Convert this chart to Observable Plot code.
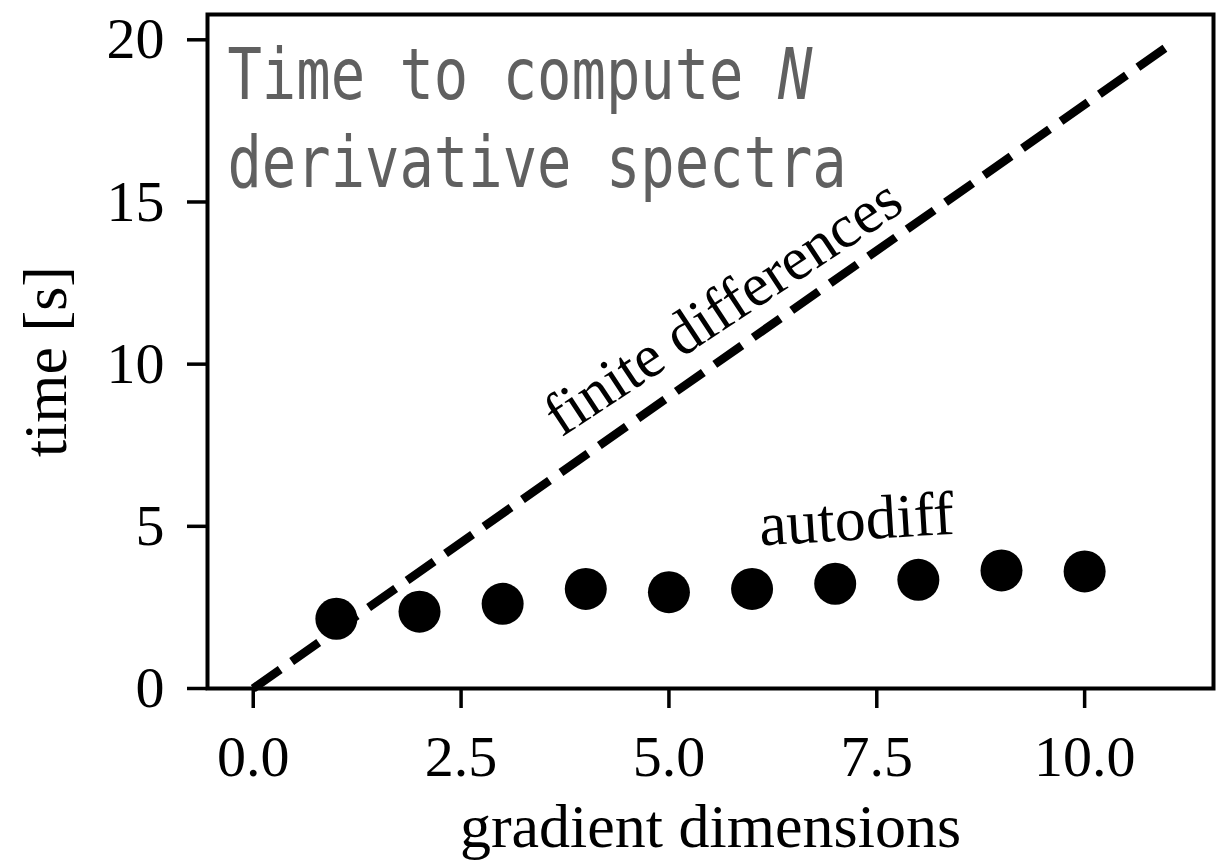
<!DOCTYPE html>
<html>
<head>
<meta charset="utf-8">
<script src="https://cdn.jsdelivr.net/npm/d3@7"></script>
<script src="https://cdn.jsdelivr.net/npm/@observablehq/plot@0.6"></script>
<style>
  body { margin: 0; background: #fff; }
</style>
</head>
<body>
<div id="chart"></div>
<script>
// Autodiff timings (seconds) per number of gradient dimensions
const dims = [1, 2, 3, 4, 5, 6, 7, 8, 9, 10];
const autodiffTimes = [2.15, 2.37, 2.61, 3.07, 2.97, 3.07, 3.23, 3.35, 3.64, 3.61];

// Finite-difference cost grows linearly with the number of dimensions
const finiteDims = [0, 11];
const finiteTimes = [0, 19.8];

// Axis ticks
const xTicks = [0, 2.5, 5, 7.5, 10];
const yTicks = [0, 5, 10, 15, 20];

const autodiff = dims.map((d, i) => ({dim: d, time: autodiffTimes[i]}));
const finite = finiteDims.map((d, i) => ({dim: d, time: finiteTimes[i]}));

const serif = "Liberation Serif";
const mono = "DejaVu Sans Mono";

const chart = Plot.plot({
  width: 1228,
  height: 862,
  marginLeft: 207,
  marginRight: 15,
  marginTop: 14,
  marginBottom: 174,
  style: {background: "#fff", color: "#000", fontFamily: serif},
  x: {domain: [-0.55, 11.55]},
  y: {domain: [0, 20.78]},
  marks: [
    Plot.line(finite, {x: "dim", y: "time", stroke: "#000", strokeWidth: 8.5,
      strokeDasharray: "33,14", strokeLinecap: "butt"}),
    Plot.dot(autodiff, {x: "dim", y: "time", r: 21, fill: "#000"}),

    // in-plot labels
    Plot.text(["finite differences"], {x: 5.78, y: 11.25, text: d => d, rotate: -33.5,
      lineAnchor: "bottom", textAnchor: "middle", fontSize: 61, fontFamily: serif, fill: "#000"}),
    Plot.text(["autodiff"], {x: 7.27, y: 4.59, text: d => d, rotate: -3.5,
      lineAnchor: "bottom", textAnchor: "middle", fontSize: 62, fontFamily: serif, fill: "#000"}),

    // title block in the upper-left corner
    Plot.text(["Time to compute"], {x: -0.31, y: 18.18, text: d => d, lineAnchor: "bottom",
      textAnchor: "start", fontSize: 71, fontFamily: mono, fill: "#606060"}),
    Plot.text(["derivative spectra"], {x: -0.31, y: 15.46, text: d => d, lineAnchor: "bottom",
      textAnchor: "start", fontSize: 71, fontFamily: mono, fill: "#606060"}),

    // axis titles
    Plot.text(["time [s]"], {x: -2.257, y: 10.08, text: d => d, rotate: -90, lineAnchor: "bottom",
      textAnchor: "middle", fontSize: 62, fontFamily: serif, fill: "#000"}),
    Plot.text(["gradient dimensions"], {x: 5.5, y: -4.89, text: d => d, lineAnchor: "bottom",
      textAnchor: "middle", fontSize: 62, fontFamily: serif, fill: "#000"}),

    Plot.frame({stroke: "#000", strokeWidth: 4}),
    Plot.axisX({ticks: xTicks, tickFormat: d3.format(".1f"), tickSize: 20, tickPadding: 26,
      strokeWidth: 3.5, fontSize: 58, fontFamily: serif, label: null}),
    Plot.axisY({ticks: yTicks, tickFormat: d3.format("d"), tickSize: 20, tickPadding: 23,
      strokeWidth: 3.5, fontSize: 58, fontFamily: serif, label: null})
  ]
});

// Narrow the monospace title glyphs and set N in italics
d3.select(chart).selectAll("text")
  .filter(function () { return this.textContent === "Time to compute" || this.textContent === "derivative spectra"; })
  .each(function () {
    const t = this.getAttribute("transform") || "";
    this.setAttribute("transform", t + " scale(0.805,1)");
    if (this.textContent === "Time to compute") {
      this.appendChild(document.createTextNode(" "));
      const n = document.createElementNS("http://www.w3.org/2000/svg", "tspan");
      n.setAttribute("font-style", "italic");
      n.textContent = "N";
      this.appendChild(n);
    }
  });

document.getElementById("chart").appendChild(chart);
</script>
</body>
</html>
